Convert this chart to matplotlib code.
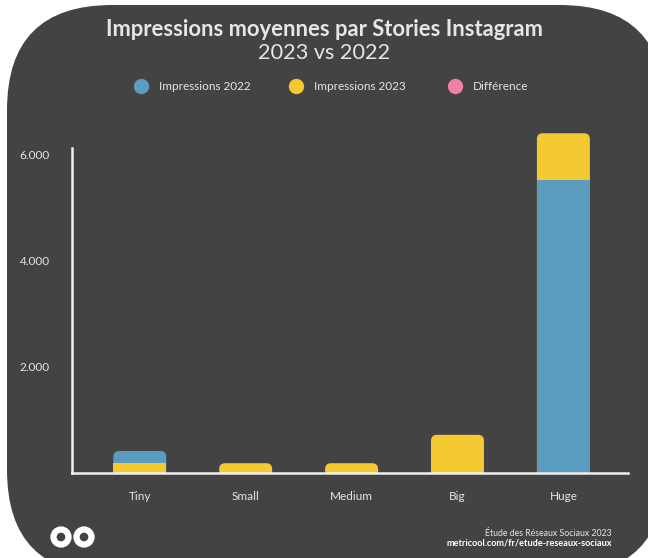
import matplotlib
matplotlib.use("Agg")
import matplotlib.pyplot as plt
from matplotlib.patches import FancyBboxPatch, Circle
from matplotlib.lines import Line2D
import matplotlib.ticker as mticker

categories = ["Tiny", "Small", "Medium", "Big", "Huge"]
impressions_2022 = [415, 0, 0, 0, 5530]
impressions_2023 = [180, 185, 185, 720, 6410]
y_ticks = [2000, 4000, 6000]

BG = "#434343"
BLUE = "#5a9dc0"
YELLOW = "#f5c932"
PINK = "#f27fa6"
TXT = "#e6e6e6"

plt.rcParams['font.family'] = ['Lato', 'DejaVu Sans']

W, H = 648, 558
fig = plt.figure(figsize=(W / 100, H / 100), dpi=100)
fig.patch.set_facecolor("white")

# dark rounded card behind everything
card = FancyBboxPatch((7, -17), 658, 570, boxstyle="round,pad=0,rounding_size=105",
                      transform=None, facecolor=BG, edgecolor="none", zorder=-10)
fig.patches.append(card)

# axes placed in pixels
left, right, bottom, top = 72, 628, 85, 438
ax = fig.add_axes([left / W, bottom / H, (right - left) / W, (top - bottom) / H])
ax.set_facecolor("none")
ax.set_zorder(1)

ymax = 6660
x = list(range(len(categories)))
width = 0.5
# one x unit is ~106 px, ymax spans 353 px -> y units per x unit
aspect = ymax / 353 * 106
for i in x:
    a, b = impressions_2022[i], impressions_2023[i]
    # larger value behind (rounded top), smaller in front (square)
    pairs = sorted([(a, BLUE), (b, YELLOW)], key=lambda p: -p[0])
    back, front = pairs
    if back[0] > 0:
        ax.add_patch(FancyBboxPatch((i - width / 2, -400), width, back[0] + 400,
                                    boxstyle="round,pad=0,rounding_size=0.055",
                                    mutation_aspect=aspect, facecolor=back[1],
                                    edgecolor="none", zorder=2))
    if front[0] > 0:
        ax.bar(i, front[0], width=width, color=front[1], zorder=3)

ax.set_xlim(-0.64, 4.61)
ax.set_ylim(0, ymax)
ax.set_xticks(x)
ax.set_xticklabels(categories)
ax.set_yticks(y_ticks)
ax.yaxis.set_major_formatter(mticker.FuncFormatter(lambda v, p: format(int(v), ",").replace(",", ".")))
ax.tick_params(axis="both", length=0, colors=TXT, labelsize=8.5)
ax.tick_params(axis="y", pad=16)
ax.tick_params(axis="x", pad=13)
for s in ["top", "right"]:
    ax.spines[s].set_visible(False)
ax.spines["left"].set_color("#f0f0f0")
ax.spines["bottom"].set_color("#f0f0f0")
ax.spines["left"].set_linewidth(1.8)
ax.spines["bottom"].set_linewidth(1.8)
ax.spines["left"].set_bounds(0, 6130)
ax.spines["left"].set_zorder(6)
ax.spines["bottom"].set_zorder(6)

# title
fig.text(0.5, 1 - 30 / H, "Impressions moyennes par Stories Instagram", ha="center", va="center",
         color=TXT, fontsize=15.8, fontweight="bold")
fig.text(0.5, 1 - 53 / H, "2023 vs 2022", ha="center", va="center", color=TXT, fontsize=15.6)

# legend
leg_items = [("Impressions 2022", BLUE, 141), ("Impressions 2023", YELLOW, 296), ("Différence", PINK, 455)]
for label, col, px in leg_items:
    fig.add_artist(Line2D([px / W], [1 - 86 / H], marker="o", markersize=10, color=col,
                          linestyle="none", transform=fig.transFigure))
    fig.text((px + 18) / W, 1 - 86 / H, label, ha="left", va="center", color=TXT, fontsize=8.5)

# footer
fig.text(612 / W, 1 - 533 / H, "Étude des Réseaux Sociaux 2023", ha="right", va="center",
         color=TXT, fontsize=6.3)
fig.text(612 / W, 1 - 543 / H, "metricool.com/fr/etude-reseaux-sociaux", ha="right", va="center",
         color="white", fontsize=6.6, fontweight="bold")

# logo
for cx in (61, 84):
    fig.patches.append(Circle((cx, H - 537), 7.5, transform=None, facecolor="none",
                              edgecolor="white", linewidth=4.5, zorder=3))

fig.savefig("out.png", dpi=100, facecolor="white")
